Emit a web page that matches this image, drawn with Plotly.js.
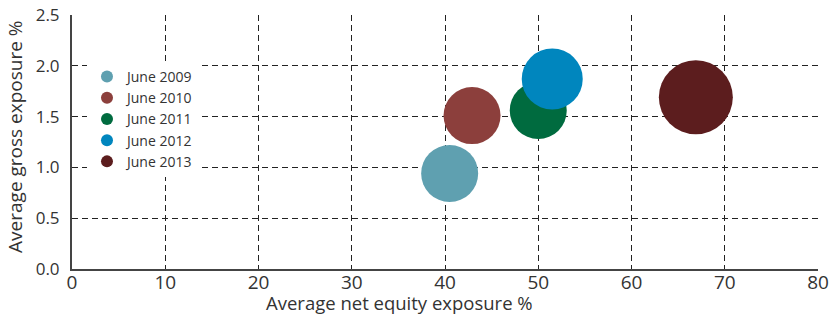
<!DOCTYPE html>
<html>
<head>
<meta charset="utf-8">
<script src="https://cdn.plot.ly/plotly-3.0.1.min.js"></script>
<style>html,body{margin:0;padding:0;background:#fff;}#chart{width:831px;height:314px;}</style>
</head>
<body>
<div id="chart"></div>
<script>
const seriesNames = ["June 2009", "June 2010", "June 2011", "June 2012", "June 2013"];
const netEquity = [40.5, 42.9, 50.0, 51.5, 66.9];
const grossExposure = [0.94, 1.51, 1.56, 1.87, 1.69];
const bubbleSize = [57, 57, 57, 61, 74];
const colors = ["#5fa0b0", "#8c3f3c", "#006b3f", "#0086be", "#5c1d1e"];
const xTicks = [0, 10, 20, 30, 40, 50, 60, 70, 80];
const yTicks = [0, 0.5, 1.0, 1.5, 2.0, 2.5];

const traces = seriesNames.map((n, i) => ({
  type: 'scatter', mode: 'markers', name: n,
  x: [netEquity[i]], y: [grossExposure[i]],
  marker: {size: [bubbleSize[i]], sizemode: 'diameter', color: colors[i], line: {width: 0}, opacity: 1},
  hoverinfo: 'x+y+name'
}));

const font = "'Open Sans', sans-serif";
const layout = {
  width: 831, height: 314,
  margin: {l: 72, r: 13, t: 15, b: 45, pad: 0},
  paper_bgcolor: '#fff', plot_bgcolor: '#fff',
  font: {family: font, color: '#333'},
  showlegend: true,
  legend: {x: 0.0201, y: 0.819, xanchor: 'left', yanchor: 'top', bgcolor: '#fff', borderwidth: 0,
           entrywidth: 130, entrywidthmode: 'pixels',
           font: {size: 14, color: '#333', family: font}, itemsizing: 'constant', tracegroupgap: 0},
  xaxis: {range: [0, 80], tickvals: xTicks, ticktext: xTicks.map(String),
          showgrid: true, gridcolor: '#222', gridwidth: 1, griddash: '6px,4px',
          showline: true, linecolor: '#444', linewidth: 2, zeroline: false,
          ticks: '', ticklabelstandoff: -5, tickfont: {size: 19, color: '#333', family: font}, fixedrange: true},
  yaxis: {range: [0, 2.5], tickvals: yTicks, tickformat: '.1f',
          showgrid: true, gridcolor: '#222', gridwidth: 1, griddash: '6px,4px',
          showline: true, linecolor: '#444', linewidth: 2, zeroline: false,
          ticks: '', ticklabelstandoff: 7, tickfont: {size: 17, color: '#333', family: font}, fixedrange: true},
  annotations: [
    {text: 'Average net equity exposure %', xref: 'paper', yref: 'paper', x: 0.439, y: -0.133,
     xanchor: 'center', yanchor: 'middle', showarrow: false, font: {size: 18.5, color: '#333', family: font}},
    {text: 'Average gross exposure %', xref: 'paper', yref: 'paper', x: -0.0764, y: 0.52,
     xanchor: 'center', yanchor: 'middle', textangle: -90, showarrow: false, font: {size: 19, color: '#333', family: font}}
  ]
};
Plotly.newPlot('chart', traces, layout, {displayModeBar: false, staticPlot: true});
</script>
</body>
</html>
